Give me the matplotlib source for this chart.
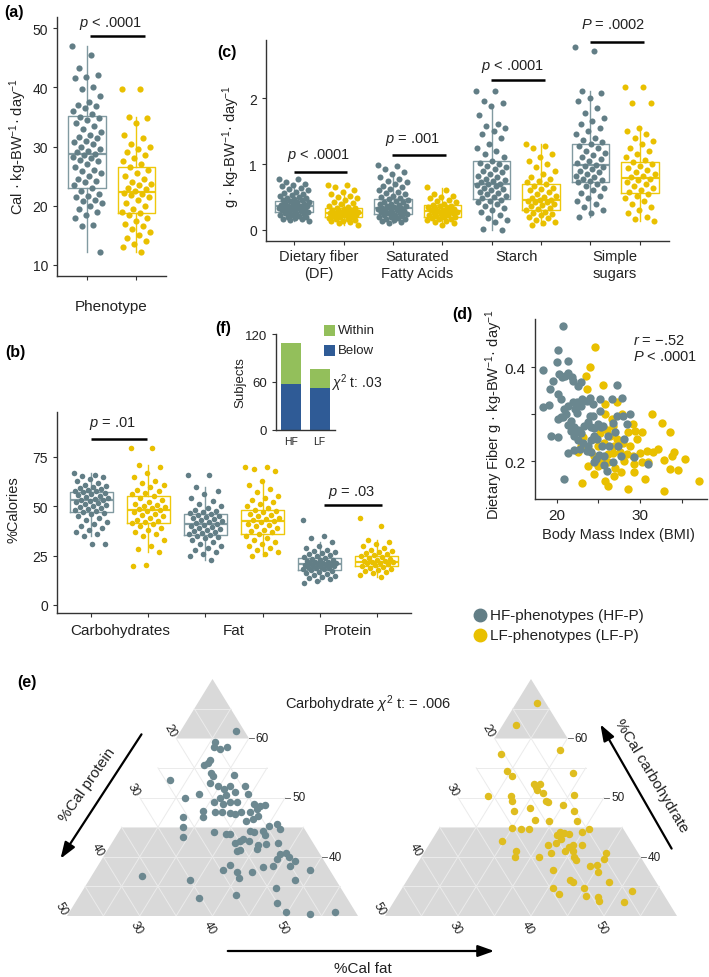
import matplotlib
matplotlib.use('Agg')
import matplotlib.pyplot as plt
from matplotlib.lines import Line2D
from matplotlib.patches import Polygon, Rectangle, FancyArrowPatch
from matplotlib.transforms import offset_copy
import numpy as np

plt.rcParams['font.family'] = ['Liberation Sans', 'DejaVu Sans']
plt.rcParams['mathtext.fontset'] = 'custom'
plt.rcParams['mathtext.rm'] = 'Liberation Sans'
plt.rcParams['mathtext.it'] = 'Liberation Sans:italic'
plt.rcParams['mathtext.bf'] = 'Liberation Sans:bold'

W, H = 709, 978
HF_COL = '#627e86'
LF_COL = '#e9c000'
HF_BOX = '#819aa1'
LF_BOX = '#eec80c'
INK = '#222222'

# ---------------- (a) energy intake ----------------
a_hf = [47.0, 45.5, 43.3, 42.0, 41.8, 41.5, 40.0, 39.7, 38.5, 37.5, 37.0, 36.8, 36.5, 36.0,
        35.5, 35.0, 34.8, 34.5, 34.0, 33.5, 33.0, 32.5, 32.0, 31.6, 31.5, 31.0, 30.8, 30.5,
        30.0, 29.5, 29.2, 29.0, 28.8, 28.5, 28.2, 28.0, 27.8, 27.5, 27.0, 26.5, 26.0, 25.8,
        25.5, 25.0, 24.5, 24.2, 24.0, 23.5, 23.0, 22.5, 22.0, 21.7, 21.5, 21.0, 20.8, 20.5,
        20.0, 19.5, 19.0, 18.5, 18.0, 16.8, 16.5, 12.2]
a_lf = [39.7, 39.7, 35.0, 34.8, 34.0, 32.0, 31.5, 30.5, 30.0, 29.5, 29.0, 28.5, 28.0, 27.5,
        27.0, 26.5, 26.0, 25.5, 25.0, 24.5, 24.0, 23.7, 23.5, 23.0, 22.8, 22.5, 22.2, 22.0,
        21.8, 21.5, 21.0, 20.5, 20.0, 19.5, 19.0, 18.7, 18.5, 18.0, 17.5, 17.0, 16.5, 16.0,
        15.5, 15.0, 14.5, 14.0, 13.5, 13.0, 12.2]
a_q1 = [23.0, 18.7]
a_med = [28.8, 22.4]
a_q3 = [35.2, 26.6]
a_lo = [12.2, 12.2]
a_hi = [47.0, 35.0]

# ---------------- (c) macronutrient subtypes ----------------
c_cats = ['Dietary fiber\n(DF)', 'Saturated\nFatty Acids', 'Starch', 'Simple\nsugars']
c_hf = [
    [0.78, 0.77, 0.72, 0.70, 0.68, 0.66, 0.64, 0.62, 0.60, 0.58, 0.56, 0.55, 0.53, 0.52, 0.50,
     0.49, 0.48, 0.47, 0.46, 0.45, 0.44, 0.43, 0.42, 0.41, 0.40, 0.39, 0.38, 0.37, 0.37, 0.36,
     0.36, 0.35, 0.35, 0.34, 0.33, 0.33, 0.32, 0.31, 0.30, 0.30, 0.29, 0.28, 0.27, 0.26, 0.25,
     0.24, 0.23, 0.22, 0.21, 0.20, 0.19, 0.18, 0.17, 0.16, 0.15, 0.13],
    [0.98, 0.97, 0.92, 0.88, 0.85, 0.80, 0.78, 0.75, 0.72, 0.70, 0.67, 0.65, 0.62, 0.60, 0.58,
     0.56, 0.54, 0.52, 0.50, 0.48, 0.47, 0.46, 0.44, 0.43, 0.42, 0.40, 0.39, 0.38, 0.37, 0.36,
     0.35, 0.34, 0.34, 0.33, 0.32, 0.31, 0.30, 0.29, 0.28, 0.27, 0.26, 0.25, 0.24, 0.23, 0.22,
     0.21, 0.20, 0.19, 0.18, 0.17, 0.16, 0.15, 0.14, 0.12, 0.10],
    [2.10, 2.10, 1.95, 1.92, 1.88, 1.75, 1.60, 1.58, 1.55, 1.50, 1.45, 1.40, 1.30, 1.25, 1.20,
     1.15, 1.10, 1.05, 1.02, 1.00, 0.97, 0.95, 0.92, 0.90, 0.88, 0.85, 0.82, 0.80, 0.78, 0.76,
     0.74, 0.72, 0.70, 0.69, 0.68, 0.66, 0.64, 0.62, 0.60, 0.58, 0.56, 0.54, 0.52, 0.50, 0.48,
     0.46, 0.44, 0.42, 0.40, 0.37, 0.34, 0.30, 0.27, 0.22, 0.18, 0.15, 0.12, 0.02, 0.00],
    [2.77, 2.72, 2.10, 2.08, 2.00, 1.95, 1.85, 1.78, 1.70, 1.65, 1.60, 1.55, 1.50, 1.45, 1.40,
     1.37, 1.33, 1.30, 1.27, 1.24, 1.20, 1.17, 1.14, 1.10, 1.07, 1.04, 1.01, 0.99, 0.97, 0.95,
     0.92, 0.90, 0.88, 0.85, 0.82, 0.80, 0.78, 0.76, 0.74, 0.72, 0.70, 0.67, 0.64, 0.60, 0.56,
     0.52, 0.48, 0.44, 0.40, 0.35, 0.30, 0.25, 0.20],
]
c_lf = [
    [0.68, 0.68, 0.65, 0.60, 0.58, 0.55, 0.52, 0.50, 0.48, 0.45, 0.43, 0.41, 0.39, 0.37, 0.35,
     0.34, 0.33, 0.32, 0.31, 0.30, 0.29, 0.28, 0.27, 0.26, 0.26, 0.25, 0.25, 0.24, 0.23, 0.22,
     0.22, 0.21, 0.20, 0.19, 0.18, 0.17, 0.16, 0.15, 0.14, 0.13, 0.12, 0.10, 0.08],
    [0.65, 0.60, 0.55, 0.52, 0.50, 0.48, 0.46, 0.44, 0.42, 0.40, 0.38, 0.37, 0.36, 0.35, 0.34,
     0.33, 0.32, 0.31, 0.30, 0.29, 0.29, 0.28, 0.27, 0.26, 0.25, 0.24, 0.23, 0.22, 0.21, 0.20,
     0.19, 0.18, 0.17, 0.16, 0.15, 0.14, 0.12, 0.10, 0.08],
    [1.30, 1.28, 1.25, 1.15, 1.10, 1.05, 1.00, 0.95, 0.90, 0.85, 0.80, 0.78, 0.75, 0.72, 0.70,
     0.67, 0.64, 0.62, 0.60, 0.57, 0.55, 0.52, 0.50, 0.48, 0.46, 0.45, 0.44, 0.43, 0.42, 0.40,
     0.38, 0.36, 0.34, 0.32, 0.30, 0.28, 0.26, 0.24, 0.22, 0.20, 0.18, 0.15, 0.12, 0.10, 0.07],
    [2.17, 2.17, 1.92, 1.92, 1.55, 1.50, 1.45, 1.40, 1.35, 1.30, 1.25, 1.20, 1.15, 1.10, 1.06,
     1.03, 1.00, 0.97, 0.94, 0.91, 0.88, 0.85, 0.82, 0.80, 0.78, 0.76, 0.73, 0.70, 0.67, 0.64,
     0.61, 0.58, 0.55, 0.52, 0.48, 0.44, 0.40, 0.35, 0.30, 0.25, 0.20, 0.16, 0.13],
]
c_hf_q1 = [0.27, 0.24, 0.47, 0.72]
c_hf_med = [0.36, 0.34, 0.69, 0.98]
c_hf_q3 = [0.44, 0.47, 1.04, 1.31]
c_hf_lo = [0.14, 0.10, 0.00, 0.20]
c_hf_hi = [0.70, 0.80, 1.88, 2.10]
c_lf_q1 = [0.19, 0.19, 0.30, 0.56]
c_lf_med = [0.25, 0.29, 0.45, 0.79]
c_lf_q3 = [0.33, 0.38, 0.70, 1.03]
c_lf_lo = [0.08, 0.08, 0.07, 0.13]
c_lf_hi = [0.60, 0.64, 1.31, 1.55]
c_pvals = [r'$p$ < .0001', r'$p$ = .001', r'$p$ < .0001', r'$P$ = .0002']

# ---------------- (b) % calories ----------------
b_cats = ['Carbohydrates', 'Fat', 'Protein']
b_hf = [
    [67, 66, 65.5, 65, 64, 63, 62, 61, 60.5, 60, 59.5, 59, 58.5, 58, 57.5, 57, 56.5, 56, 55.5,
     55, 54.5, 54, 53.5, 53.3, 53, 52.5, 52, 51.5, 51, 50.5, 50, 49.5, 49, 48.5, 48, 47.5, 47,
     46.5, 46, 45, 44, 43, 42, 41, 40, 39, 38, 37, 36, 35, 31, 31],
    [66, 66, 60, 58, 56, 54, 52.5, 51, 50, 49, 48, 47.5, 47, 46.5, 46, 45.5, 45, 44.5, 44, 43.5,
     43, 42.5, 42, 41.5, 41, 40.5, 40, 39.5, 39, 38.5, 38, 37.5, 37, 36.5, 36, 35.5, 35, 34.5,
     34, 33, 32, 31, 30, 29, 28, 27, 26, 25, 23],
    [43, 35, 34, 32, 30, 29, 28, 27.5, 27, 26.5, 26, 25.5, 25, 24.5, 24, 23.5, 23, 22.8, 22.5,
     22, 21.8, 21.5, 21.2, 21, 20.8, 20.5, 20.2, 20, 19.8, 19.5, 19.2, 19, 18.7, 18.5, 18.2, 18,
     17.5, 17, 16.5, 16, 15.5, 15, 14.5, 14, 13.5, 13, 12, 11],
]
b_lf = [
    [79.5, 79.5, 71, 70, 67, 65, 63, 62, 61, 60, 58.5, 57.5, 56.5, 56, 55, 54, 53, 52, 51, 50.5,
     50, 49.5, 49, 48.5, 48, 47.5, 47, 46, 45.5, 45, 44, 43, 42.5, 42, 41.5, 41, 40, 39, 38, 37,
     36, 35, 33, 30, 28.5, 27, 20, 19.5],
    [70, 70, 69, 68, 63, 61, 59, 57, 55, 54, 53, 52, 51, 50, 49, 48, 47.5, 47, 46, 45.5, 45, 44,
     43.5, 43, 42.5, 42, 41, 40.5, 40, 39, 38, 37.5, 37, 36, 35, 34, 33, 32, 31, 30, 29, 28, 27,
     26, 25],
    [44, 40, 33, 32, 31, 30, 29, 28, 27.5, 27, 26.5, 26, 25.5, 25, 24.5, 24, 23.5, 23, 22.5,
     22.2, 22, 21.8, 21.5, 21, 20.5, 20, 19.5, 19, 18.5, 18, 17.5, 17, 16.5, 16, 15, 14],
]
b_hf_q1 = [47.2, 35.2, 17.9]
b_hf_med = [53.3, 41.0, 20.8]
b_hf_q3 = [57.4, 46.2, 23.8]
b_hf_lo = [35, 23, 12]
b_hf_hi = [67, 60, 32]
b_lf_q1 = [41.6, 36.0, 19.5]
b_lf_med = [48.2, 42.6, 22.0]
b_lf_q3 = [55.0, 48.0, 25.0]
b_lf_lo = [27, 25, 14]
b_lf_hi = [71, 63, 33]

# ---------------- (f) fiber recommendation ----------------
f_groups = ['HF', 'LF']
f_below = [57, 53]
f_within = [52, 23]

# ---------------- (d) fiber vs BMI ----------------
d_hf_bmi = [18.3, 20.8, 20.1, 20.0, 21.3, 19.6, 20.3, 20.6, 21.0, 21.4, 21.8, 22.0, 22.6, 22.9,
            19.2, 18.3, 19.1, 20.1, 20.5, 20.9, 21.4, 21.9, 22.4, 23.0, 23.6, 24.0, 24.4, 25.2,
            27.2, 27.8, 28.8, 27.2, 26.8, 20.1, 20.5, 21.1, 21.3, 21.7, 22.1, 22.5, 22.9, 23.3,
            23.7, 24.1, 24.5, 24.9, 25.3, 21.7, 22.1, 22.6, 23.1, 23.7, 24.1, 24.5, 26.3, 27.3,
            28.1, 29.3, 27.7, 26.8, 26.0, 25.7, 24.5, 24.7, 25.1, 25.7, 24.1, 23.6, 22.8, 22.1,
            21.4, 19.3, 20.1, 20.9, 31.0, 28.4, 27.9, 26.1, 27.0, 22.4, 24.0, 20.8, 22.2, 22.9,
            25.2, 26.6, 25.6, 24.8, 25.4, 24.4]
d_hf_df = [0.395, 0.489, 0.438, 0.411, 0.414, 0.372, 0.386, 0.379, 0.382, 0.388, 0.379, 0.372,
           0.360, 0.368, 0.355, 0.315, 0.320, 0.343, 0.333, 0.311, 0.318, 0.326, 0.326, 0.333,
           0.329, 0.334, 0.322, 0.308, 0.362, 0.334, 0.301, 0.297, 0.282, 0.290, 0.294, 0.301,
           0.277, 0.287, 0.274, 0.267, 0.260, 0.276, 0.283, 0.274, 0.272, 0.279, 0.274, 0.265,
           0.253, 0.246, 0.239, 0.232, 0.246, 0.255, 0.233, 0.233, 0.248, 0.209, 0.212, 0.198,
           0.180, 0.192, 0.198, 0.206, 0.213, 0.212, 0.219, 0.223, 0.226, 0.225, 0.218, 0.253,
           0.251, 0.162, 0.194, 0.279, 0.296, 0.253, 0.262, 0.304, 0.297, 0.294, 0.311, 0.318,
           0.333, 0.333, 0.276, 0.248, 0.233, 0.297]
d_lf_bmi = [24.6, 24.0, 23.5, 23.6, 25.6, 25.8, 27.2, 27.8, 29.2, 31.4, 32.6, 33.6, 26.8, 26.0,
            25.2, 26.4, 27.2, 28.0, 28.8, 29.6, 30.2, 32.2, 31.6, 30.8, 30.0, 29.2, 28.4, 27.6,
            26.8, 26.1, 25.3, 24.5, 24.0, 23.2, 22.9, 22.6, 23.7, 24.9, 26.1, 27.0, 28.1, 29.3,
            30.2, 31.0, 32.9, 33.8, 34.1, 35.4, 33.6, 34.5, 30.6, 28.5, 26.2, 25.8, 23.0, 32.9,
            37.1, 29.3, 26.9, 24.5, 27.7, 25.7, 24.9, 26.9, 28.5, 29.4, 25.8, 26.6, 24.4]
d_lf_df = [0.443, 0.400, 0.381, 0.354, 0.362, 0.322, 0.326, 0.301, 0.279, 0.301, 0.282, 0.262,
           0.276, 0.267, 0.260, 0.255, 0.248, 0.239, 0.232, 0.248, 0.262, 0.226, 0.219, 0.223,
           0.218, 0.212, 0.216, 0.219, 0.218, 0.216, 0.205, 0.212, 0.223, 0.251, 0.233, 0.219,
           0.191, 0.191, 0.198, 0.187, 0.201, 0.194, 0.198, 0.199, 0.204, 0.212, 0.221, 0.205,
           0.184, 0.182, 0.162, 0.141, 0.148, 0.159, 0.155, 0.138, 0.159, 0.177, 0.170, 0.173,
           0.177, 0.239, 0.232, 0.232, 0.262, 0.265, 0.301, 0.290, 0.248]

# ---------------- (e) ternary diet composition ----------------
e_hf_carb = [61.2, 59.4, 58.5, 58.2, 58.5, 56.4, 55.5, 55.9, 53.0, 54.2, 53.6, 53.8, 52.4, 52.0,
             51.4, 51.9, 50.9, 50.4, 50.0, 49.3, 48.9, 49.3, 49.2, 52.0, 50.6, 48.9, 48.6, 48.7,
             48.1, 46.9, 46.4, 47.6, 47.5, 47.2, 47.4, 47.6, 47.5, 47.8, 46.7, 49.9, 50.6, 46.7,
             45.0, 43.3, 44.1, 43.8, 43.8, 46.1, 45.2, 45.5, 44.4, 43.6, 44.7, 44.4, 42.7, 42.4,
             43.0, 42.7, 44.1, 41.9, 41.3, 42.2, 42.4, 41.0, 41.2, 40.5, 40.7, 39.6, 38.5, 39.9,
             39.3, 38.2, 37.4, 36.4, 38.6, 37.7, 37.4, 38.5, 37.7, 36.0, 34.8, 32.2, 30.7, 30.3,
             30.6, 33.5, 33.0, 36.0, 36.8]
e_hf_fat = [27.6, 25.6, 25.9, 26.9, 27.7, 26.4, 26.1, 26.5, 22.7, 27.7, 28.2, 31.0, 28.4, 29.8,
            30.9, 31.5, 32.6, 31.7, 31.0, 30.5, 32.0, 32.8, 33.8, 33.5, 34.6, 36.2, 37.2, 37.9,
            37.0, 37.8, 37.4, 36.3, 35.2, 34.5, 33.7, 32.5, 31.6, 29.8, 30.4, 26.3, 27.8, 27.6,
            28.5, 29.3, 33.1, 35.0, 35.5, 36.6, 40.1, 41.1, 39.8, 40.4, 41.9, 38.0, 37.4, 36.9,
            37.7, 38.6, 38.6, 40.3, 40.4, 41.3, 42.8, 37.8, 38.2, 44.0, 44.8, 44.0, 44.1, 45.5,
            46.7, 42.9, 41.7, 40.4, 38.1, 37.6, 39.6, 46.4, 49.5, 48.3, 46.3, 47.8, 49.8, 53.2,
            56.5, 41.5, 36.6, 33.9, 26.9]
e_hf_prot = [11.2, 15.0, 15.6, 14.9, 13.8, 17.2, 18.4, 17.6, 24.3, 18.1, 18.2, 15.2, 19.2, 18.2,
             17.7, 16.6, 16.5, 17.9, 19.0, 20.2, 19.1, 17.9, 17.0, 14.5, 14.8, 14.9, 14.2, 13.4,
             14.9, 15.3, 16.2, 16.1, 17.3, 18.3, 18.9, 19.9, 20.9, 22.4, 22.9, 23.8, 21.6, 25.7,
             26.5, 27.4, 22.8, 21.2, 20.7, 17.3, 14.7, 13.4, 15.8, 16.0, 13.4, 17.6, 19.9, 20.7,
             19.3, 18.7, 17.3, 17.8, 18.3, 16.5, 14.8, 21.2, 20.6, 15.5, 14.5, 16.4, 17.4, 14.6,
             14.0, 18.9, 20.9, 23.2, 23.3, 24.7, 23.0, 15.1, 12.8, 15.7, 18.9, 20.0, 19.5, 16.5,
             12.9, 25.0, 30.4, 30.1, 36.3]
e_lf_carb = [66.0, 62.2, 58.1, 57.3, 54.4, 53.7, 54.2, 52.3, 51.7, 52.2, 51.2, 50.8, 50.5, 50.3,
             50.2, 49.4, 49.4, 49.3, 48.8, 48.2, 47.8, 47.7, 46.2, 46.0, 46.0, 44.9, 44.6, 44.7,
             44.1, 44.6, 44.2, 44.0, 43.6, 43.8, 43.0, 42.4, 42.0, 42.7, 41.0, 40.0, 40.0, 40.6,
             40.9, 41.6, 41.9, 41.0, 41.9, 39.9, 39.5, 40.7, 39.6, 38.5, 38.6, 37.4, 37.8, 36.0,
             35.7, 34.8, 34.8, 33.7, 33.4, 33.2, 32.6, 35.7, 34.2, 32.4]
e_lf_fat = [22.8, 21.9, 29.9, 22.3, 24.5, 25.6, 33.7, 29.2, 29.8, 30.1, 30.2, 31.3, 35.6, 24.0,
            27.2, 27.7, 32.3, 32.7, 35.0, 30.8, 28.8, 37.0, 32.4, 34.4, 38.3, 30.0, 31.3, 32.4,
            40.0, 40.6, 36.9, 37.5, 36.8, 38.3, 37.6, 37.2, 36.3, 29.7, 32.4, 32.8, 36.1, 37.5,
            39.2, 39.4, 39.8, 40.2, 41.1, 40.9, 41.4, 44.9, 45.2, 43.9, 44.7, 45.5, 39.1, 42.3,
            42.9, 44.8, 40.6, 42.0, 45.8, 47.6, 48.0, 47.8, 51.7, 51.6]
e_lf_prot = [11.2, 15.9, 12.0, 20.4, 21.1, 20.7, 12.1, 18.5, 18.5, 17.7, 18.6, 17.9, 13.9, 25.7,
             22.6, 22.9, 18.3, 18.0, 16.2, 21.0, 23.4, 15.3, 21.4, 19.6, 15.7, 25.1, 24.1, 22.9,
             15.9, 14.8, 18.9, 18.5, 19.6, 17.9, 19.4, 20.4, 21.7, 27.6, 26.6, 27.2, 23.9, 21.9,
             19.9, 19.0, 18.3, 18.8, 17.0, 19.2, 19.1, 14.4, 15.2, 17.6, 16.7, 17.1, 23.1, 21.7,
             21.4, 20.4, 24.6, 24.3, 20.8, 19.2, 19.4, 16.5, 14.1, 16.0]
CARB_MIN, FAT_MIN, PROT_MIN, SPAN = 30, 20, 10, 40
AMDR_LO, AMDR_HI = 45, 60


fig = plt.figure(figsize=(W / 100, H / 100), dpi=100)


def fx(px):
    return px / W


def fy(py):
    return 1 - py / H


def add_ax(l, t, r, b):
    return fig.add_axes([l / W, 1 - b / H, (r - l) / W, (b - t) / H])


def style(ax, size=10):
    for s in ['top', 'right']:
        ax.spines[s].set_visible(False)
    for s in ['left', 'bottom']:
        ax.spines[s].set_color('#333333')
        ax.spines[s].set_linewidth(1.0)
    ax.tick_params(direction='out', length=3, width=0.8, color='#333333',
                   labelsize=size, labelcolor=INK)


def boxes(ax, pos, q1, med, q3, lo, hi, color, width):
    stats = [dict(q1=a, med=m, q3=c, whislo=l, whishi=h, fliers=[])
             for a, m, c, l, h in zip(q1, med, q3, lo, hi)]
    ax.bxp(stats, positions=pos, widths=width, showfliers=False, showcaps=False,
           manage_ticks=False,
           boxprops=dict(color=color, lw=1.0),
           whiskerprops=dict(color=color, lw=1.0),
           medianprops=dict(color=color, lw=1.6))


def strip(ax, pos, vals, color, spread, s):
    n = len(vals)
    off = ((np.arange(n) * 0.618034) % 1.0 - 0.5) * spread
    ax.scatter(pos + off, vals, s=s, color=color, lw=0, zorder=3)


def pbar(ax, x0, x1, y_line, xt, yt, label):
    ax.plot([x0, x1], [y_line, y_line], color='black', lw=1.8, clip_on=False,
            solid_capstyle='butt')
    ax.text(xt, yt, label, ha='center', va='center', fontsize=10.5, color=INK, clip_on=False)


# ---------------- panel (a) ----------------
ax_a = add_ax(57, 18, 166, 277)
style(ax_a)
boxes(ax_a, [1], a_q1[:1], a_med[:1], a_q3[:1], a_lo[:1], a_hi[:1], HF_BOX, 0.76)
boxes(ax_a, [2], a_q1[1:], a_med[1:], a_q3[1:], a_lo[1:], a_hi[1:], LF_BOX, 0.76)
strip(ax_a, 1, a_hf, HF_COL, 0.6, 20)
strip(ax_a, 2, a_lf, LF_COL, 0.6, 20)
ax_a.set_xlim(0.39, 2.6)
ax_a.set_ylim(8.14, 51.86)
ax_a.set_yticks([10, 20, 30, 40, 50])
ax_a.set_xticks([1, 2])
ax_a.set_xticklabels(['', ''])
pbar(ax_a, 1.05, 2.18, 48.6, 1.48, 51.0, r'$p$ < .0001')
fig.text(fx(111), fy(307), 'Phenotype', ha='center', va='center', fontsize=11, color=INK)
fig.text(fx(18), fy(147), r'Cal · kg-BW$^{-1}$· day$^{-1}$', rotation=90,
         ha='center', va='center', fontsize=10.5, color=INK)
fig.text(fx(4), fy(13), '(a)', fontweight='bold', fontsize=11.5, ha='left', va='center')

# ---------------- panel (c) ----------------
ax_c = add_ax(266, 41, 669, 242)
style(ax_c)
hf_pos = np.array([1, 3, 5, 7])
lf_pos = hf_pos + 1
boxes(ax_c, hf_pos, c_hf_q1, c_hf_med, c_hf_q3, c_hf_lo, c_hf_hi, HF_BOX, 0.76)
boxes(ax_c, lf_pos, c_lf_q1, c_lf_med, c_lf_q3, c_lf_lo, c_lf_hi, LF_BOX, 0.76)
for i in range(4):
    strip(ax_c, hf_pos[i], c_hf[i], HF_COL, 0.62, 19)
    strip(ax_c, lf_pos[i], c_lf[i], LF_COL, 0.62, 19)
ax_c.set_xlim(0.43, 8.59)
ax_c.set_ylim(-0.167, 2.88)
ax_c.set_yticks([0, 1, 2])
ax_c.set_xticks(list(range(1, 9)))
ax_c.set_xticklabels([''] * 8)
ax_c.set_xticks(hf_pos + 0.5, minor=True)
ax_c.set_xticklabels(c_cats, minor=True, fontsize=10.5, color=INK, va='top')
ax_c.tick_params(axis='x', which='minor', length=0, pad=6)
c_line_y = [0.88, 1.14, 2.28, 2.85]
c_text = [(1.49, 1.14), (3.39, 1.39), (5.42, 2.49), (7.45, 3.12)]
for i in range(4):
    pbar(ax_c, hf_pos[i] - 0.01, lf_pos[i] + 0.08, c_line_y[i],
         c_text[i][0], c_text[i][1], c_pvals[i])
fig.text(fx(231), fy(146), r'g · kg-BW$^{-1}$· day$^{-1}$', rotation=90,
         ha='center', va='center', fontsize=10.5, color=INK)
fig.text(fx(227), fy(52), '(c)', fontweight='bold', fontsize=11.5, ha='center', va='center')

# ---------------- panel (b) ----------------
ax_b = add_ax(57, 413, 411, 614)
style(ax_b)
bh = np.array([1, 3, 5])
bl = bh + 1
boxes(ax_b, bh, b_hf_q1, b_hf_med, b_hf_q3, b_hf_lo, b_hf_hi, HF_BOX, 0.75)
boxes(ax_b, bl, b_lf_q1, b_lf_med, b_lf_q3, b_lf_lo, b_lf_hi, LF_BOX, 0.75)
for i in range(3):
    strip(ax_b, bh[i], b_hf[i], HF_COL, 0.6, 16)
    strip(ax_b, bl[i], b_lf[i], LF_COL, 0.6, 16)
ax_b.set_xlim(0.4, 6.6)
ax_b.set_ylim(-4.1, 97.8)
ax_b.set_yticks([0, 25, 50, 75])
ax_b.set_xticks(list(range(1, 7)))
ax_b.set_xticklabels([''] * 6)
ax_b.set_xticks(bh + 0.5, minor=True)
ax_b.set_xticklabels(b_cats, minor=True, fontsize=11, color=INK)
ax_b.tick_params(axis='x', which='minor', length=0, pad=7)
pbar(ax_b, 1.0, 1.98, 83.9, 1.37, 92.4, r'$p$ = .01')
pbar(ax_b, 5.07, 6.09, 50.8, 5.56, 57.4, r'$p$ = .03')
fig.text(fx(13), fy(510), '%Calories', rotation=90, ha='center', va='center',
         fontsize=10.5, color=INK)
fig.text(fx(5), fy(352), '(b)', fontweight='bold', fontsize=11.5, ha='left', va='center')

# ---------------- panel (f) ----------------
ax_f = add_ax(276, 335, 335, 431)
style(ax_f, size=9.5)
fpos = np.arange(len(f_groups))
ax_f.bar(fpos, f_below, width=0.7, color='#2f5b96', lw=0)
ax_f.bar(fpos, f_within, bottom=f_below, width=0.7, color='#93bf5b', lw=0)
ax_f.set_xlim(-0.53, 1.54)
ax_f.set_ylim(0, 120)
ax_f.set_yticks([0, 60, 120])
ax_f.set_xticks(fpos)
ax_f.set_xticklabels(f_groups, fontsize=7.5)
ax_f.tick_params(axis='x', length=0, pad=4)
fig.text(fx(240), fy(383), 'Subjects', rotation=90, ha='center', va='center',
         fontsize=9.5, color=INK)
fig.patches.append(Rectangle((fx(324), fy(337)), 11 / W, 11 / H, transform=fig.transFigure,
                             color='#93bf5b', lw=0))
fig.patches.append(Rectangle((fx(324), fy(357)), 11 / W, 11 / H, transform=fig.transFigure,
                             color='#2f5b96', lw=0))
fig.text(fx(338), fy(331), 'Within', ha='left', va='center', fontsize=9.5, color=INK)
fig.text(fx(338), fy(351), 'Below', ha='left', va='center', fontsize=9.5, color=INK)
fig.text(fx(331), fy(383), r'$\chi^2$ t: .03', ha='left', va='center', fontsize=10, color=INK)
fig.text(fx(223), fy(328), '(f)', fontweight='bold', fontsize=11.5, ha='center', va='center')

# ---------------- panel (d) ----------------
ax_d = add_ax(535, 320, 707, 500)
style(ax_d, size=11)
ax_d.scatter(d_hf_bmi, d_hf_df, s=36, color='#6a878f', lw=0, zorder=3)
ax_d.scatter(d_lf_bmi, d_lf_df, s=36, color=LF_COL, lw=0, zorder=2)
ax_d.set_xlim(17.4, 38.04)
ax_d.set_ylim(0.12, 0.503)
ax_d.set_xticks([20, 25, 30, 35])
ax_d.set_xticklabels(['20', '', '30', ''])
ax_d.set_yticks([0.2, 0.3, 0.4])
ax_d.set_yticklabels(['0.2', '', '0.4'])
ax_d.text(0.57, 0.84, '$r$ = \u2212.52\n$P$ < .0001', transform=ax_d.transAxes,
          ha='left', va='center', fontsize=10.5, color=INK, linespacing=1.2)
fig.text(fx(618), fy(535), 'Body Mass Index (BMI)', ha='center', va='center',
         fontsize=10.5, color=INK)
fig.text(fx(494), fy(415), r'Dietary Fiber g · kg-BW$^{-1}$· day$^{-1}$', rotation=90,
         ha='center', va='center', fontsize=10.5, color=INK)
fig.text(fx(462), fy(315), '(d)', fontweight='bold', fontsize=11.5, ha='center', va='center')

# legend
for yy, col, lab in [(616, HF_COL, 'HF-phenotypes (HF-P)'), (636, LF_COL, 'LF-phenotypes (LF-P)')]:
    fig.add_artist(Line2D([fx(480)], [fy(yy)], marker='o', ms=9, color=col, lw=0,
                          transform=fig.transFigure))
    fig.text(fx(490), fy(yy), lab, ha='left', va='center', fontsize=11, color=INK)


# ---------------- panel (e) ----------------
def tern(carb, fat, prot):
    c = np.asarray(carb, dtype=float) - CARB_MIN
    f = np.asarray(fat, dtype=float) - FAT_MIN
    p = np.asarray(prot, dtype=float) - PROT_MIN
    tot = c + f + p
    return (f + 0.5 * c) / tot, c / tot


def ternary(ax, carb, fat, prot, color):
    ax.set_xlim(0, 1)
    ax.set_ylim(0, 1)
    ax.axis('off')
    top = CARB_MIN + SPAN
    # shaded ranges outside the recommended carbohydrate band
    for c_lo, c_hi in [(AMDR_HI, top), (CARB_MIN, AMDR_LO)]:
        xs, ys = tern([c_lo, c_hi, c_hi, c_lo],
                      [FAT_MIN, FAT_MIN, 100 - c_hi - PROT_MIN, 100 - c_lo - PROT_MIN],
                      [100 - c_lo - FAT_MIN, 100 - c_hi - FAT_MIN, PROT_MIN, PROT_MIN])
        ax.add_patch(Polygon(np.column_stack([xs, ys]), closed=True, color='#d9d9d9', lw=0))
    gkw = dict(color='#ebebeb', lw=0.7, zorder=1)
    for v in range(CARB_MIN + 5, top, 5):
        xs, ys = tern([v, v], [FAT_MIN, 100 - v - PROT_MIN], [100 - v - FAT_MIN, PROT_MIN])
        ax.plot(xs, ys, **gkw)
    for v in range(FAT_MIN + 5, FAT_MIN + SPAN, 5):
        xs, ys = tern([CARB_MIN, 100 - v - PROT_MIN], [v, v], [100 - CARB_MIN - v, PROT_MIN])
        ax.plot(xs, ys, **gkw)
    for v in range(PROT_MIN + 5, PROT_MIN + SPAN, 5):
        xs, ys = tern([CARB_MIN, 100 - v - FAT_MIN], [100 - CARB_MIN - v, FAT_MIN], [v, v])
        ax.plot(xs, ys, **gkw)
    xs, ys = tern(carb, fat, prot)
    ax.scatter(xs, ys, s=29, color=color, lw=0, zorder=3, clip_on=False)
    # tick labels
    for v in [40, 50, 60]:
        xs, ys = tern([v], [100 - v - PROT_MIN], [PROT_MIN])
        ax.plot([xs[0], xs[0] + 0.018], [ys[0], ys[0]], color='#555555', lw=0.6, clip_on=False)
        ax.text(xs[0], ys[0], str(v), transform=offset_copy(ax.transData, fig=fig, x=7, y=0,
                units='dots'), ha='left', va='center', fontsize=8.5, color=INK)
    for v in [20, 30, 40, 50]:
        xs, ys = tern([100 - v - FAT_MIN], [FAT_MIN], [v])
        ax.text(xs[0], ys[0], str(v), transform=offset_copy(ax.transData, fig=fig, x=-6, y=8,
                units='dots'), ha='center', va='center', rotation=-60, fontsize=8.5, color=INK)
    for v in [30, 40, 50]:
        xs, ys = tern([CARB_MIN], [v], [100 - CARB_MIN - v])
        ax.text(xs[0], ys[0], str(v), transform=offset_copy(ax.transData, fig=fig, x=-3, y=-11,
                units='dots'), ha='center', va='center', rotation=-60, fontsize=8.5, color=INK)


ax_e1 = add_ax(67, 680, 358, 917)
ternary(ax_e1, e_hf_carb, e_hf_fat, e_hf_prot, '#6c8890')
ax_e2 = add_ax(385, 680, 677, 917)
ternary(ax_e2, e_lf_carb, e_lf_fat, e_lf_prot, '#dfbd1f')

fig.text(fx(368), fy(704), r'Carbohydrate $\chi^2$ t: = .006', ha='center', va='center',
         fontsize=10.5, color=INK)
fig.text(fx(27), fy(682), '(e)', fontweight='bold', fontsize=11.5, ha='center', va='center')

for (x0, y0), (x1, y1) in [((143, 733), (59, 862)), ((673, 852), (599, 723)),
                           ((225, 952), (497, 952))]:
    fig.patches.append(FancyArrowPatch((fx(x0), fy(y0)), (fx(x1), fy(y1)),
                                       transform=fig.transFigure,
                                       arrowstyle='-|>,head_length=0.7,head_width=0.25',
                                       mutation_scale=14, lw=1.6, color='black'))
fig.text(fx(87), fy(785), '%Cal protein', rotation=55, ha='center', va='center',
         fontsize=11, color=INK)
fig.text(fx(651), fy(776), '%Cal carbohydrate', rotation=-59, ha='center', va='center',
         fontsize=11, color=INK)
fig.text(fx(363), fy(969), '%Cal fat', ha='center', va='center', fontsize=11, color=INK)

fig.savefig('out.png', dpi=100)
